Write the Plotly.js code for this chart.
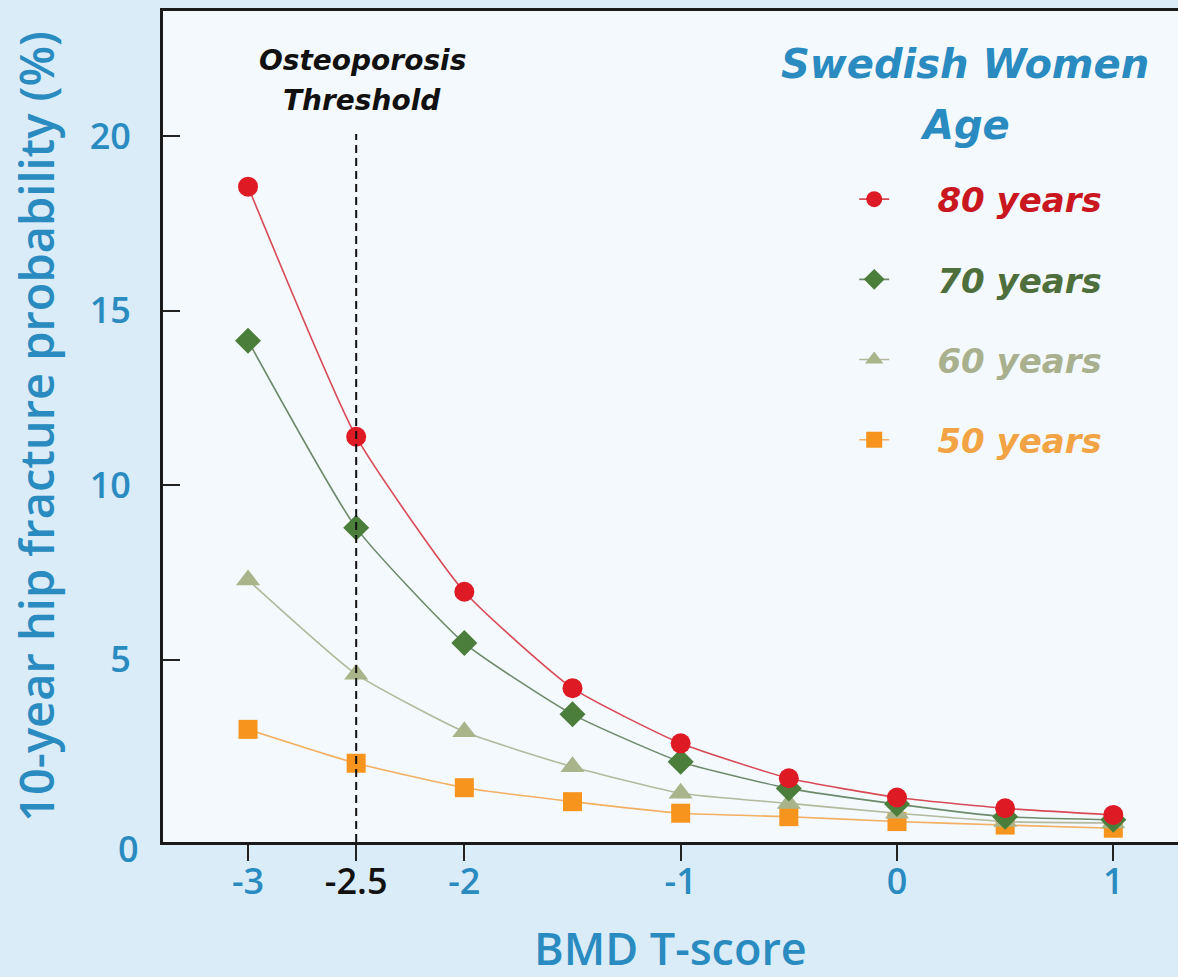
<!DOCTYPE html>
<html>
<head>
<meta charset="utf-8">
<script src="https://cdn.plot.ly/plotly-3.0.1.min.js"></script>
<style>html,body{margin:0;padding:0;background:#d9ecf8;}#chart{width:1178px;height:977px;}</style>
</head>
<body>
<div id="chart"></div>
<script>
// BMD T-score values (x)
const tScores = [-3, -2.5, -2, -1.5, -1, -0.5, 0, 0.5, 1];
// 10-year hip fracture probability (%) by age
const age80 = [18.55, 11.39, 6.95, 4.19, 2.61, 1.61, 1.06, 0.75, 0.56];
const age70 = [14.14, 8.78, 5.48, 3.44, 2.08, 1.32, 0.87, 0.51, 0.42];
const age60 = [7.29, 4.59, 2.94, 1.94, 1.18, 0.89, 0.61, 0.37, 0.33];
const age50 = [3.01, 2.04, 1.34, 0.94, 0.61, 0.51, 0.37, 0.27, 0.18];
const seriesNames = ["80 years", "70 years", "60 years", "50 years"];
const xTickVals = [-3, -2.5, -2, -1, 0, 1];
const xTickText = ["-3", "-2.5", "-2", "-1", "0", "1"];
const yTickVals = [5, 10, 15, 20];
const threshold = -2.5;

const BLUE = "#2a8bc0";
const FONT = "Open Sans, Noto Sans, sans-serif";
const WIDE = "DejaVu Sans, Verdana, sans-serif";

function mk(y, name, rank, lineColor, markerColor, symbol, size, textColor) {
  return {
    x: tScores, y: y, type: "scatter", mode: "lines+markers",
    name: '&nbsp;&nbsp;&nbsp;&nbsp;<span style="color:' + textColor + '"><b><i>' + name + '</i></b></span>',
    legendrank: rank, legendgroup: name,
    line: {color: lineColor, width: 1.6, shape: "spline", smoothing: 0.5},
    marker: {color: markerColor, symbol: symbol, size: size, line: {width: 0}},
    hoverinfo: "x+y"
  };
}

const traces = [
  mk(age50, seriesNames[3], 4, "#f3b062", "#f7941e", "square", 19, "#f2a444"),
  mk(age60, seriesNames[2], 3, "#b2b99c", "#aab48a", "triangle-up", 21, "#a9b08d"),
  mk(age70, seriesNames[1], 2, "#6d8a6a", "#4b7d3b", "diamond", 20, "#4e6f3b"),
  mk(age80, seriesNames[0], 1, "#d84a55", "#de1b24", "circle", 20, "#c9161f")
];

const yMin = -0.215, yMax = 23.58;

const layout = {
  width: 1178, height: 977,
  margin: {l: 163, r: 0, t: 11, b: 135},
  paper_bgcolor: "#d9ecf8",
  plot_bgcolor: "#f4f9fd",
  font: {family: FONT, color: BLUE},
  showlegend: true,
  legend: {
    x: 0.681, y: 0.808, xanchor: "left", yanchor: "top",
    bgcolor: "rgba(0,0,0,0)",
    font: {family: WIDE, size: 34},
    traceorder: "grouped",
    tracegroupgap: 33,
    itemsizing: "trace"
  },
  xaxis: {
    range: [-3.393, 1.299],
    tickmode: "array",
    tickvals: xTickVals,
    ticktext: xTickText.map(t => t === "-2.5" ? '<span style="color:#111111">' + t + '</span>' : t),
    ticks: "outside", ticklen: 16, tickwidth: 2, tickcolor: "#222",
    ticklabelstandoff: -10,
    tickfont: {family: FONT, size: 36, color: BLUE, weight: 600},
    showline: true, linecolor: "#1a1a1a", linewidth: 3, mirror: true,
    showgrid: false, zeroline: false
  },
  yaxis: {
    range: [yMin, yMax],
    tickmode: "array",
    tickvals: yTickVals,
    ticks: "inside", ticklen: 17, tickwidth: 2, tickcolor: "#222",
    ticklabelstandoff: 22,
    tickfont: {family: FONT, size: 36, color: BLUE, weight: 600},
    showline: true, linecolor: "#1a1a1a", linewidth: 3, mirror: false,
    showgrid: false, zeroline: false,
    title: {text: "10-year hip fracture probability (%)", font: {family: FONT, size: 47, color: BLUE, weight: 600}, standoff: 21}
  },
  yaxis2: {
    overlaying: "y", side: "left", range: [yMin, yMax],
    tickmode: "array", tickvals: [10, 20],
    ticks: "inside", ticklen: 30, tickwidth: 2, tickcolor: "#222",
    showticklabels: false, showline: false, showgrid: false, zeroline: false
  },
  shapes: [{
    type: "line", xref: "x", yref: "paper",
    x0: threshold, x1: threshold, y0: 0, y1: 0.852,
    line: {color: "#111", width: 2, dash: "8px,5px"}
  }],
  annotations: [
    {
      text: "BMD T-score",
      xref: "paper", yref: "paper", x: 0.5, y: (842 - 948) / 831, xanchor: "center", yanchor: "middle",
      showarrow: false, font: {family: FONT, size: 45, color: BLUE, weight: 600}
    },
    {
      text: "<b><i>Osteoporosis</i></b>",
      xref: "paper", yref: "paper", x: (362 - 163) / 1015, y: (842 - 60) / 831, xanchor: "center", yanchor: "middle",
      showarrow: false, font: {family: WIDE, size: 28, color: "#111"}
    },
    {
      text: "<b><i>Threshold</i></b>",
      xref: "paper", yref: "paper", x: (362 - 163) / 1015, y: (842 - 101) / 831, xanchor: "center", yanchor: "middle",
      showarrow: false, font: {family: WIDE, size: 28, color: "#111"}
    },
    {
      text: "<b><i>Swedish Women</i></b>",
      xref: "paper", yref: "paper", x: (965 - 163) / 1015, y: (842 - 64) / 831, xanchor: "center", yanchor: "middle",
      showarrow: false, font: {family: WIDE, size: 40, color: BLUE}
    },
    {
      text: "<b><i>Age</i></b>",
      xref: "paper", yref: "paper", x: (965 - 163) / 1015, y: (842 - 125) / 831, xanchor: "center", yanchor: "middle",
      showarrow: false, font: {family: WIDE, size: 40, color: BLUE}
    },
    {
      text: "0", xref: "paper", yref: "y", x: 0, y: yMin, xanchor: "right", yanchor: "middle",
      xshift: -22, yshift: -6, showarrow: false,
      font: {family: FONT, size: 36, color: BLUE, weight: 600}
    }
  ]
};

Plotly.newPlot("chart", traces, layout, {displayModeBar: false, staticPlot: true});
</script>
</body>
</html>
